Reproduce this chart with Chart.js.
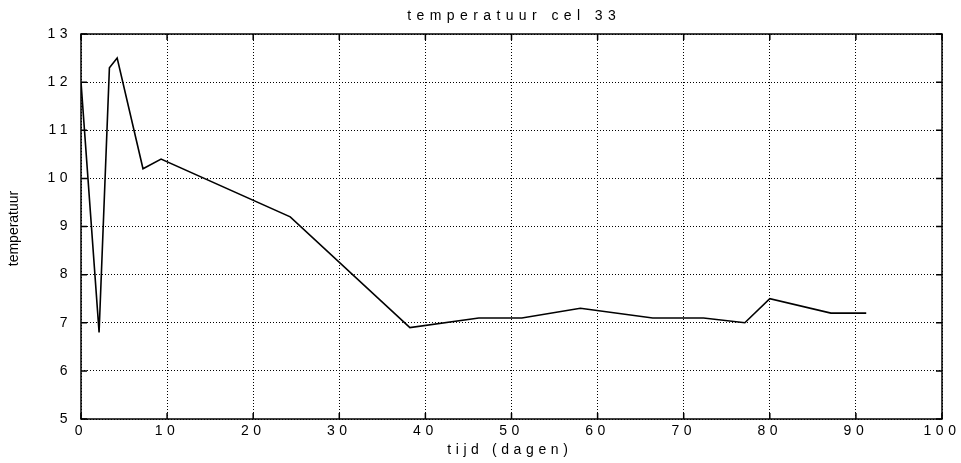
<!DOCTYPE html>
<html>
<head>
<meta charset="utf-8">
<script src="https://cdn.jsdelivr.net/npm/chart.js@4/dist/chart.umd.min.js"></script>
<style>
  html, body { margin: 0; padding: 0; background: #fff; }
  #wrap { width: 961px; height: 463px; position: relative; }
</style>
</head>
<body>
<div id="wrap"><canvas id="c"></canvas></div>
<script>
// Labels
const chartTitle = 'temperatuur cel 33';
const xTitle = 'tijd (dagen)';
const yTitle = 'temperatuur';

// Measurements: time in days and temperature of cell 33
const days  = [0, 2.1, 3.3, 4.2, 7.2, 9.3, 24.3, 38.2, 46.2, 51.2, 58.0, 66.4, 72.3, 77.1, 80.0, 87.1, 91.2];
const temps = [12.0, 6.8, 12.3, 12.5, 10.2, 10.4, 9.2, 6.9, 7.1, 7.1, 7.3, 7.1, 7.1, 7.0, 7.5, 7.2, 7.2];

// Axis ranges / ticks
const xTicks = [0, 10, 20, 30, 40, 50, 60, 70, 80, 90, 100];
const yTicks = [5, 6, 7, 8, 9, 10, 11, 12, 13];

const FONT = '"Liberation Sans", Arial, sans-serif';
const TICK_SPACING = 4.5;

const points = days.map((d, i) => ({ x: d, y: temps[i] }));

// Draws spaced text so that its visible glyphs start at x
function spacedText(ctx, text, x, y, spacing) {
  ctx.letterSpacing = '0px';
  const w = ctx.measureText(text).width + spacing * (text.length - 1);
  ctx.letterSpacing = spacing + 'px';
  ctx.fillText(text, x, y);
  return w;
}

const framePlugin = {
  id: 'frame',
  beforeDraw(chart) {
    chart.ctx.letterSpacing = TICK_SPACING + 'px';
  },
  afterDraw(chart) {
    const { ctx, chartArea: a, scales } = chart;
    ctx.save();
    ctx.letterSpacing = '0px';
    // axes box
    ctx.strokeStyle = '#000';
    ctx.lineWidth = 1.5;
    ctx.strokeRect(a.left, a.top, a.right - a.left, a.bottom - a.top);
    // inner tick marks
    ctx.lineWidth = 1.5;
    ctx.beginPath();
    const len = 6;
    xTicks.forEach(v => {
      const px = scales.x.getPixelForValue(v);
      ctx.moveTo(px, a.bottom); ctx.lineTo(px, a.bottom - len);
      ctx.moveTo(px, a.top); ctx.lineTo(px, a.top + len);
    });
    yTicks.forEach(v => {
      const py = scales.y.getPixelForValue(v);
      ctx.moveTo(a.left, py); ctx.lineTo(a.left + len, py);
      ctx.moveTo(a.right, py); ctx.lineTo(a.right - len, py);
    });
    ctx.stroke();

    // titles
    ctx.fillStyle = '#000';
    ctx.font = '14px ' + FONT;
    ctx.textAlign = 'left';
    ctx.textBaseline = 'alphabetic';
    const cx = (a.left + a.right) / 2;

    ctx.letterSpacing = '0px';
    let w = ctx.measureText(chartTitle).width + 5.4 * (chartTitle.length - 1);
    spacedText(ctx, chartTitle, cx - w / 2, 20, 5.4);

    ctx.letterSpacing = '0px';
    w = ctx.measureText(xTitle).width + 4.6 * (xTitle.length - 1);
    spacedText(ctx, xTitle, cx - w / 2 - 4, 454, 4.6);

    ctx.letterSpacing = '0px';
    ctx.translate(17.5, (a.top + a.bottom) / 2 + 2);
    ctx.rotate(-Math.PI / 2);
    ctx.textAlign = 'center';
    ctx.fillText(yTitle, 0, 0);
    ctx.restore();
  }
};

new Chart(document.getElementById('c'), {
  type: 'line',
  data: {
    datasets: [{
      data: points,
      borderColor: '#000',
      borderWidth: 1.6,
      pointRadius: 0,
      tension: 0,
      fill: false
    }]
  },
  options: {
    responsive: true,
    maintainAspectRatio: false,
    animation: false,
    events: [],
    layout: { padding: { top: 34, right: 19, left: 0, bottom: 0 } },
    plugins: { legend: { display: false }, title: { display: false }, tooltip: { enabled: false } },
    scales: {
      x: {
        type: 'linear',
        min: 0, max: 100,
        afterBuildTicks: s => { s.ticks = xTicks.map(v => ({ value: v })); },
        afterFit: s => { s.height = 44; },
        border: { display: false },
        grid: { color: '#000', lineWidth: 1, drawTicks: false },
        ticks: { color: '#000', font: { family: FONT, size: 14 }, padding: 4, maxRotation: 0, autoSkip: false }
      },
      y: {
        type: 'linear',
        min: 5, max: 13,
        afterBuildTicks: s => { s.ticks = yTicks.map(v => ({ value: v })); },
        afterFit: s => { s.width = 81; },
        border: { display: false },
        grid: { color: '#000', lineWidth: 1, drawTicks: false },
        ticks: { color: '#000', font: { family: FONT, size: 14 }, padding: 9, autoSkip: false }
      }
    }
  },
  plugins: [framePlugin, {
    id: 'dotted',
    beforeDraw(chart) {
      ['x', 'y'].forEach(k => {
        chart.options.scales[k].grid.borderDash = [1, 2];
        chart.scales[k].options.border.dash = [1, 2];
      });
    }
  }]
});
</script>
</body>
</html>
